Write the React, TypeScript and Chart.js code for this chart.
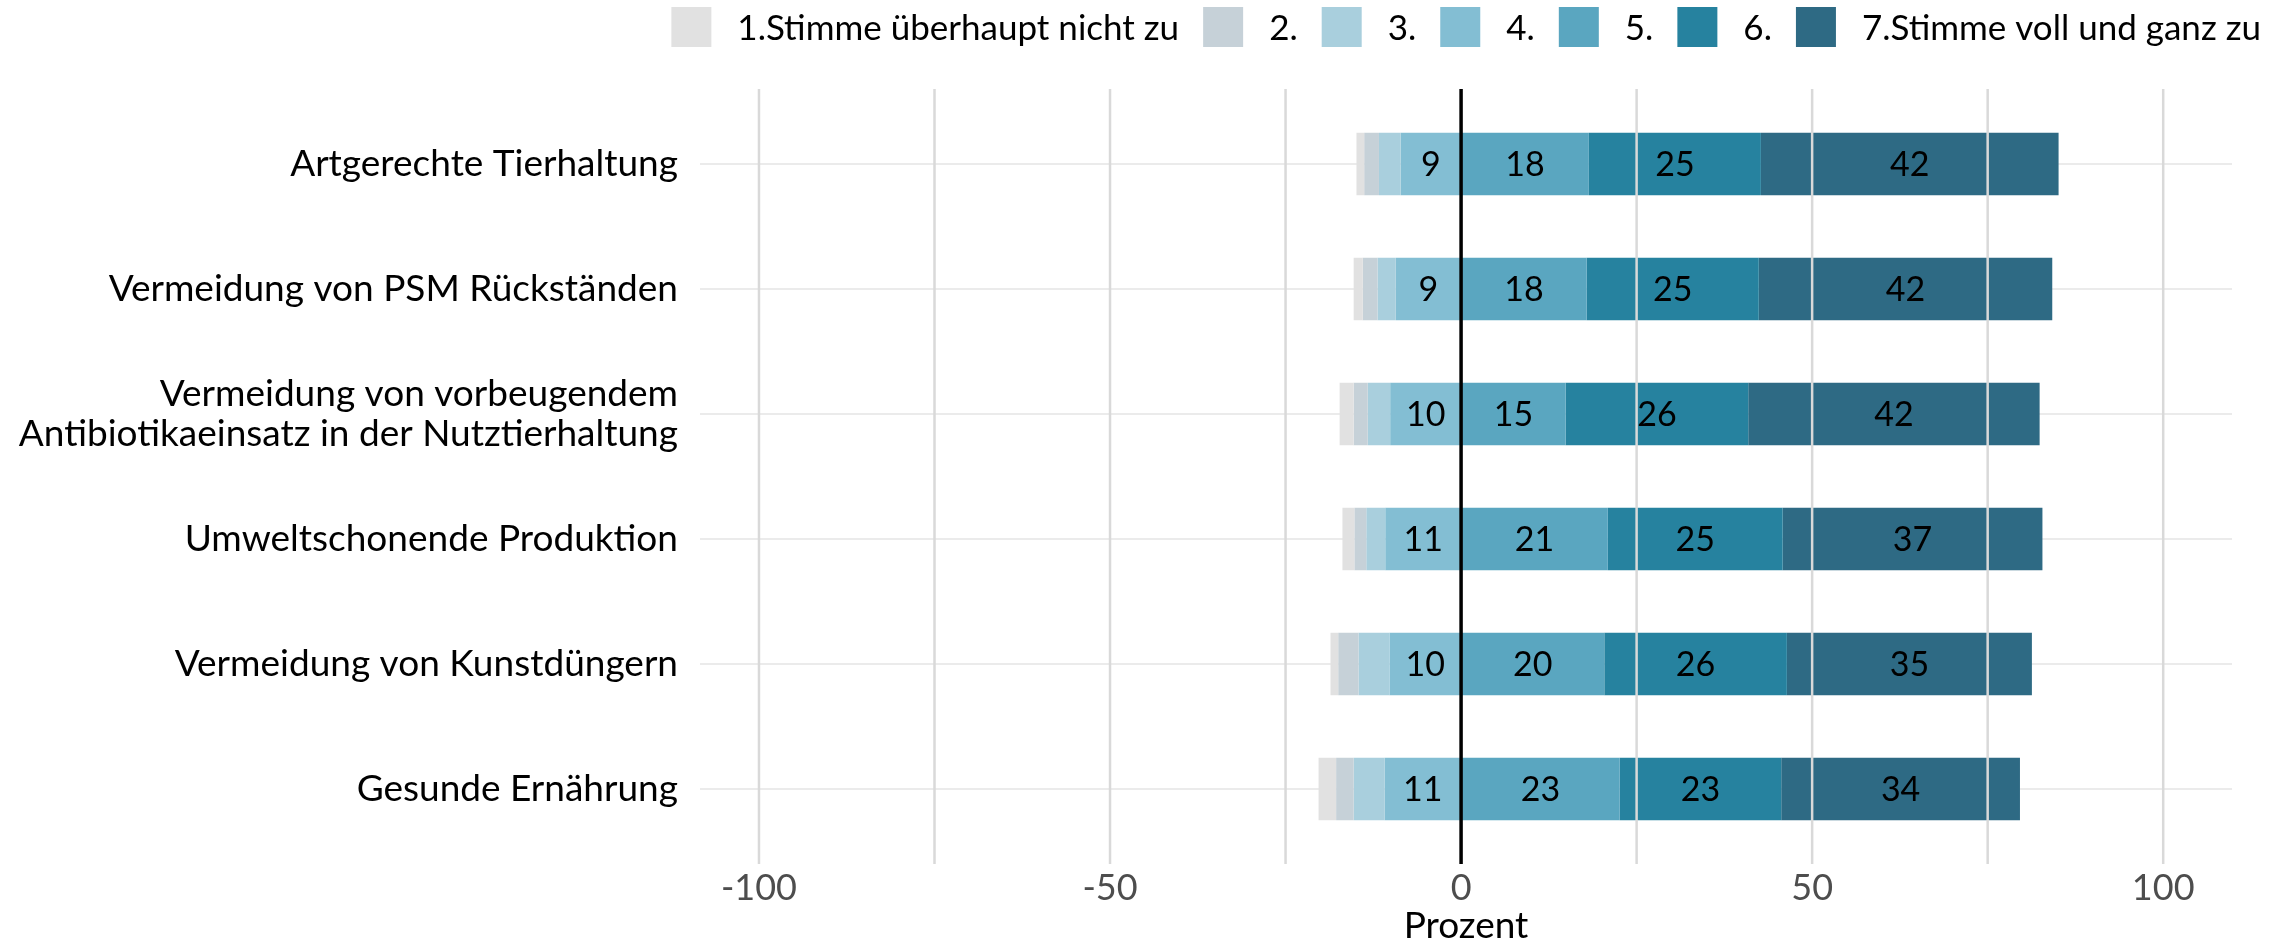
import React, { useEffect, useRef } from "react";
import { Chart, registerables } from "chart.js";

Chart.register(...registerables);

const categories: (string | string[])[] = [
  "Artgerechte Tierhaltung",
  "Vermeidung von PSM Rückständen",
  ["Vermeidung von vorbeugendem", "Antibiotikaeinsatz in der Nutztierhaltung"],
  "Umweltschonende Produktion",
  "Vermeidung von Kunstdüngern",
  "Gesunde Ernährung",
];

const levelNames = [
  "1.Stimme überhaupt nicht zu",
  "2.",
  "3.",
  "4.",
  "5.",
  "6.",
  "7.Stimme voll und ganz zu",
];

const levelColors = [
  "#e1e1e1",
  "#c6d1d8",
  "#a9cfdd",
  "#83bed3",
  "#5aa6c0",
  "#26829f",
  "#2e6a84",
];

// percentage per answer level, one value per category (top to bottom)
const lvl1 = [1.1, 1.3, 2.0, 1.7, 1.1, 2.5];
const lvl2 = [2.1, 2.1, 2.0, 1.7, 2.9, 2.5];
const lvl3 = [3.1, 2.6, 3.2, 2.7, 4.4, 4.4];
const lvl4 = [8.6, 9.3, 10.1, 10.8, 10.2, 10.9];
const lvl5 = [18.2, 17.9, 14.9, 20.9, 20.4, 22.6];
const lvl6 = [24.5, 24.5, 26.0, 24.9, 26.0, 23.0];
const lvl7 = [42.4, 41.8, 41.5, 37.0, 34.9, 34.0];

const xTicks = [-100, -50, 0, 50, 100];
const xGridValues = [-100, -75, -50, -25, 25, 50, 75, 100];

const levels = [lvl1, lvl2, lvl3, lvl4, lvl5, lvl6, lvl7];
const FONT = "Lato, 'Open Sans', sans-serif";

function rangesFor(k: number): [number, number][] {
  return categories.map((_, i) => {
    if (k <= 3) {
      let end = 0;
      for (let j = 3; j > k; j--) end -= levels[j][i];
      return [end - levels[k][i], end];
    }
    let start = 0;
    for (let j = 4; j < k; j++) start += levels[j][i];
    return [start, start + levels[k][i]];
  });
}

const overlayPlugin = {
  id: "overlay",
  afterDatasetsDraw(chart: any) {
    const { ctx, chartArea } = chart;
    const x = chart.scales.x;
    const band = (chartArea.bottom - chartArea.top) / categories.length;
    const ext = band * 0.1;
    const top = chartArea.top - ext;
    const bottom = chartArea.bottom + ext;
    ctx.save();
    ctx.strokeStyle = "#d9d9d9";
    ctx.lineWidth = 2.5;
    xGridValues.forEach((v) => {
      const px = x.getPixelForValue(v);
      ctx.beginPath();
      ctx.moveTo(px, top);
      ctx.lineTo(px, bottom);
      ctx.stroke();
    });
    ctx.strokeStyle = "#000000";
    ctx.lineWidth = 3.5;
    const z = x.getPixelForValue(0);
    ctx.beginPath();
    ctx.moveTo(z, top);
    ctx.lineTo(z, bottom);
    ctx.stroke();

    ctx.fillStyle = "#000000";
    ctx.font = `34px ${FONT}`;
    ctx.textAlign = "center";
    ctx.textBaseline = "middle";
    chart.data.datasets.forEach((ds: any, k: number) => {
      const meta = chart.getDatasetMeta(k);
      meta.data.forEach((el: any, i: number) => {
        const v = levels[k][i];
        if (v < 5) return;
        const p = el.getProps(["x", "y", "base"], true);
        ctx.fillText(String(Math.round(v)), (p.x + p.base) / 2, p.y + 1);
      });
    });
    ctx.restore();
  },
};

const legendPlugin = {
  id: "topLegend",
  afterDraw(chart: any) {
    const ctx = chart.ctx;
    ctx.save();
    ctx.font = `35px ${FONT}`;
    const key = 40;
    const gapKeyText = 26;
    const gapItem = 24;
    const widths = levelNames.map((t) => ctx.measureText(t).width);
    const total =
      widths.reduce((a, w) => a + key + gapKeyText + w, 0) +
      gapItem * (levelNames.length - 1);
    let xp = chart.width - 34 - total;
    const keyTop = 7;
    ctx.textAlign = "left";
    ctx.textBaseline = "alphabetic";
    levelNames.forEach((name, k) => {
      ctx.fillStyle = levelColors[k];
      ctx.fillRect(xp, keyTop, key, key);
      xp += key + gapKeyText;
      ctx.fillStyle = "#000000";
      ctx.fillText(name, xp, 40);
      xp += widths[k] + gapItem;
    });
    ctx.restore();
  },
};

export default function App() {
  const ref = useRef<HTMLCanvasElement | null>(null);

  useEffect(() => {
    if (!ref.current) return;
    const chart = new Chart(ref.current, {
      type: "bar",
      data: {
        labels: categories as any,
        datasets: levelNames.map((name, k) => ({
          label: name,
          data: rangesFor(k) as any,
          backgroundColor: levelColors[k],
          borderWidth: 0,
          barPercentage: 0.5,
          categoryPercentage: 1,
        })),
      },
      options: {
        indexAxis: "y",
        responsive: false,
        animation: false,
        events: [],
        layout: { padding: { top: 101.5, right: 63, bottom: 0, left: 0 } },
        plugins: {
          legend: { display: false },
          tooltip: { enabled: false },
        },
        scales: {
          x: {
            type: "linear",
            min: -108.4,
            max: 109.8,
            afterBuildTicks: (scale: any) => {
              scale.ticks = xTicks.map((v) => ({ value: v }));
            },
            afterFit: (scale: any) => {
              scale.height = 97.5;
            },
            grid: { display: false, drawTicks: false },
            border: { display: false },
            ticks: {
              padding: 15,
              color: "#4d4d4d",
              font: { family: FONT, size: 36 },
              callback: (v: any) => String(v),
            },
            title: {
              display: true,
              text: "Prozent",
              color: "#000000",
              font: { family: FONT, size: 37 },
              padding: { top: 0, bottom: 1 },
            },
          },
          y: {
            type: "category",
            stacked: true,
            offset: true,
            afterFit: (scale: any) => {
              scale.width = 700;
            },
            grid: {
              offset: false,
              color: "#ebebeb",
              lineWidth: 2,
              drawTicks: false,
            },
            border: { display: false },
            ticks: {
              padding: 22,
              color: "#000000",
              font: { family: FONT, size: 37, lineHeight: 1.08 },
            },
          },
        },
      },
      plugins: [overlayPlugin, legendPlugin],
    });
    return () => chart.destroy();
  }, []);

  return (
    <div style={{ position: "fixed", left: 0, top: 0, width: 2295, height: 949, background: "#ffffff" }}>
      <canvas ref={ref} width={2295} height={949} style={{ width: 2295, height: 949, display: "block" }} />
    </div>
  );
}
